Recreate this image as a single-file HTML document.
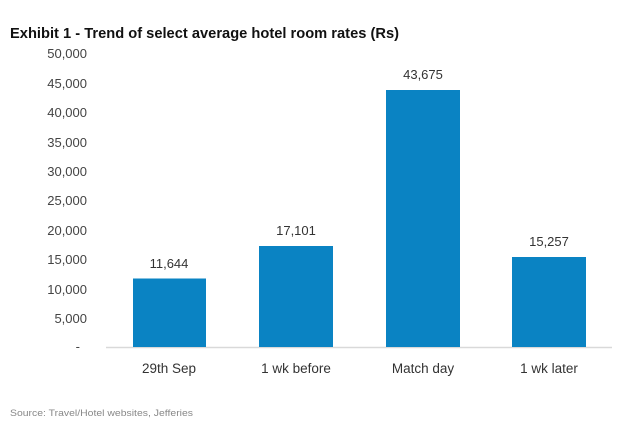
<!DOCTYPE html>
<html><head><meta charset="utf-8"><style>
html,body{margin:0;padding:0;background:#fff;}
svg{display:block;font-family:"Liberation Sans",Arial,sans-serif;}
</style></head><body>
<svg width="642" height="428" viewBox="0 0 642 428" xmlns="http://www.w3.org/2000/svg">
<rect width="642" height="428" fill="#fff"/>
<text x="10" y="38" font-size="14.5" font-weight="bold" fill="#111" textLength="389" lengthAdjust="spacingAndGlyphs">Exhibit 1 - Trend of select average hotel room rates (Rs)</text>
<g font-size="13" fill="#444" text-anchor="end">
<text x="87" y="58">50,000</text>
<text x="87" y="88">45,000</text>
<text x="87" y="117">40,000</text>
<text x="87" y="147">35,000</text>
<text x="87" y="176">30,000</text>
<text x="87" y="205">25,000</text>
<text x="87" y="235">20,000</text>
<text x="87" y="264">15,000</text>
<text x="87" y="294">10,000</text>
<text x="87" y="323">5,000</text>
<text x="80" y="351">-</text>
</g>
<line x1="106" y1="347.5" x2="612" y2="347.5" stroke="#d9d9d9" stroke-width="1.5"/>
<g fill="#0a83c3">
<rect x="133" y="278.5" width="73" height="68.5"/>
<rect x="259" y="246" width="74" height="101"/>
<rect x="386" y="90" width="74" height="257"/>
<rect x="512" y="257" width="74" height="90"/>
</g>
<g font-size="13" fill="#333" text-anchor="middle">
<text x="169" y="268">11,644</text>
<text x="296" y="235">17,101</text>
<text x="423" y="79">43,675</text>
<text x="549" y="246">15,257</text>
</g>
<g font-size="13.5" fill="#333" text-anchor="middle">
<text x="169" y="373">29th Sep</text>
<text x="296" y="373">1 wk before</text>
<text x="423" y="373">Match day</text>
<text x="549" y="373">1 wk later</text>
</g>
<text x="10" y="416" font-size="9" fill="#888" textLength="183" lengthAdjust="spacingAndGlyphs">Source: Travel/Hotel websites, Jefferies</text>
</svg>
</body></html>
